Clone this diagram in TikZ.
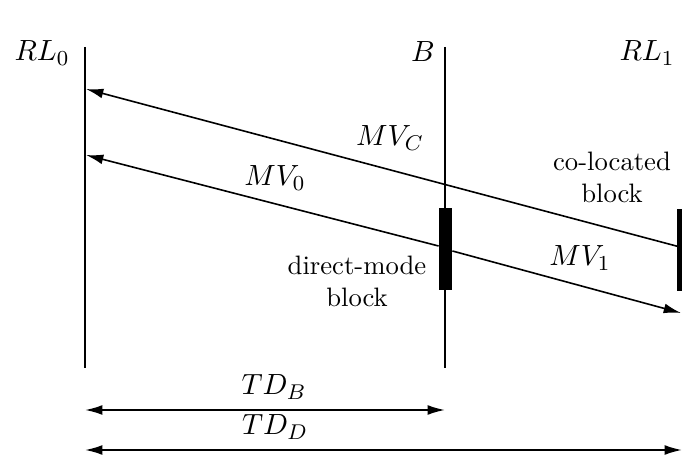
\documentclass[tikz,border=0pt]{standalone}
\usepackage{amsmath}
\usetikzlibrary{arrows.meta}
\tikzset{lab/.style={inner sep=1pt,align=center},
  mlab/.style={inner sep=1pt,font=\fontsize{11.3}{13}\selectfont},
  timeline/.style={line width=1.1pt},
  mv/.style={-{Latex[length=6.5pt,width=3.7pt]},line width=0.6pt},
  span/.style={{Latex[length=6.5pt,width=3.7pt]}-{Latex[length=6.5pt,width=3.7pt]},line width=0.7pt},
  blk/.style={fill=black,inner sep=0pt,minimum width=4.8pt,minimum height=31pt}}

\begin{document}
\begin{tikzpicture}[x=0.375pt,y=-0.375pt]
\useasboundingbox (0,0) rectangle (682,457);
% time lines
\coordinate (rl0top) at (85,47);
\coordinate (rl0bot) at (85,368);
\coordinate (btop) at (445,47);
\coordinate (bbot) at (445,368);
\draw[timeline] (rl0top)--(rl0bot);
\draw[timeline] (btop)--(bbot);
\node[mlab] (rl0) at (42,53) {$RL_0$};
\node[mlab] (b) at (423,52) {$B$};
\node[mlab] (rl1) at (647,53) {$RL_1$};
% blocks
\node[blk] (dmblk) at (445.5,249) {};
\node[blk,minimum width=2.4pt] (colblk) at (680.5,250) {};
\node[lab] (dmtext) at (357,281) {direct-mode\\block};
\node[lab] (coltext) at (612,177) {co-located\\block};
% motion vectors
\coordinate (mvcstart) at (680,247);
\coordinate (mvcend) at (86,89);
\coordinate (mv0end) at (86,155);
\coordinate (mv1end) at (681,313);
\draw[mv] (mvcstart)--(mvcend);
\draw[mv] (dmblk.west |- 0,246)--(mv0end);
\draw[mv] (dmblk.east |- 0,251)--(mv1end);
\node[mlab] (mvc) at (390,138) {$MV_C$};
\node[mlab] (mv0) at (275,178) {$MV_0$};
\node[mlab] (mv1) at (580,258) {$MV_1$};
% temporal distances
\coordinate (tdbl) at (85,410);
\coordinate (tdbr) at (445,410);
\coordinate (tddl) at (85,450);
\coordinate (tddr) at (682,450);
\draw[span] (tdbl)--(tdbr);
\draw[span] (tddl)--(tddr);
\node[mlab] (tdb) at (274,387) {$TD_B$};
\node[mlab] (tdd) at (275,427) {$TD_D$};
\end{tikzpicture}
\end{document}
